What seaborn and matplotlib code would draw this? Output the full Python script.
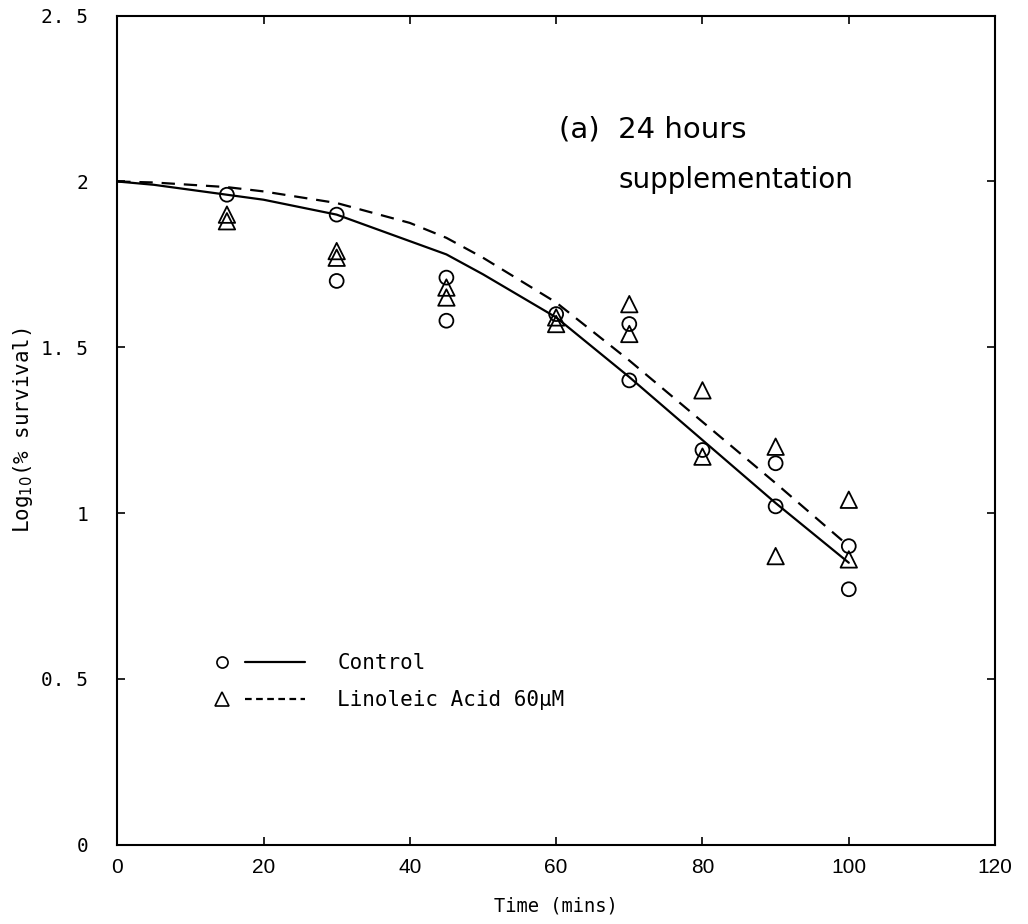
import matplotlib
matplotlib.use("Agg")
import matplotlib.pyplot as plt
import seaborn as sns
from matplotlib.lines import Line2D
from matplotlib.legend_handler import HandlerTuple

# ---- data ----
control_t = [15, 30, 30, 45, 45, 60, 70, 70, 80, 90, 90, 100, 100]
control_y = [1.96, 1.90, 1.70, 1.71, 1.58, 1.60, 1.40, 1.57, 1.19, 1.02, 1.15, 0.90, 0.77]

linoleic_t = [15, 15, 30, 30, 45, 45, 60, 60, 70, 70, 80, 80, 90, 90, 100, 100]
linoleic_y = [1.90, 1.88, 1.79, 1.77, 1.68, 1.65, 1.59, 1.57, 1.63, 1.54, 1.37, 1.17, 1.20, 0.87, 1.04, 0.86]

curve_t = [0, 5, 10, 15, 20, 30, 40, 45, 50, 60, 70, 80, 90, 100]
control_fit = [2.00, 1.99, 1.975, 1.96, 1.945, 1.90, 1.82, 1.78, 1.72, 1.59, 1.41, 1.22, 1.03, 0.85]
linoleic_fit = [2.00, 1.997, 1.99, 1.983, 1.97, 1.935, 1.875, 1.83, 1.77, 1.635, 1.46, 1.275, 1.09, 0.90]

x_ticks = [0, 20, 40, 60, 80, 100, 120]
y_ticks = [0, 0.5, 1, 1.5, 2, 2.5]
y_ticklabels = ["0", "0. 5", "1", "1. 5", "2", "2. 5"]

sns.set_style("white")
plt.rcParams["font.family"] = ["DejaVu Sans Mono", "DejaVu Sans"]
plt.rcParams["text.color"] = "black"
plt.rcParams["axes.labelcolor"] = "black"

fig = plt.figure(figsize=(10.28, 9.24), dpi=100)
ax = fig.add_axes([0.114, 0.086, 0.854, 0.897])

# fitted curves
sns.lineplot(x=curve_t, y=control_fit, color="black", linewidth=1.6, ax=ax)
sns.lineplot(x=curve_t, y=linoleic_fit, color="black", linewidth=1.6, ax=ax)
ax.lines[-1].set_dashes([6, 4])

# observations
sns.scatterplot(x=control_t, y=control_y, marker="o", s=100, facecolor="none",
                edgecolor="black", linewidth=1.3, ax=ax, zorder=3)
sns.scatterplot(x=linoleic_t, y=linoleic_y, marker="^", s=140, facecolor="none",
                edgecolor="black", linewidth=1.3, ax=ax, zorder=3)

ax.set_xlim(0, 120)
ax.set_ylim(0, 2.5)
ax.set_xticks(x_ticks)
ax.set_xticklabels([str(v) for v in x_ticks], family=["Liberation Sans", "DejaVu Sans"], fontsize=15)
ax.set_yticks(y_ticks)
ax.set_yticklabels(y_ticklabels, fontsize=14)
ax.tick_params(direction="in", length=6, width=1.2, top=True, right=True,
               bottom=True, left=True, colors="black")
ax.tick_params(axis="x", pad=10)
ax.tick_params(axis="y", pad=21)
for sp in ax.spines.values():
    sp.set_color("black")
    sp.set_linewidth(1.5)

ax.set_xlabel("Time (mins)", fontsize=13.5, labelpad=14)
ax.set_ylabel("Log$_{10}$(% survival)", fontsize=15, labelpad=4)

ax.text(0.503, 0.8625, "(a)  24 hours", transform=ax.transAxes, fontsize=21,
        family=["DejaVu Sans"], ha="left", va="center", color="black")
ax.text(0.571, 0.802, "supplementation", transform=ax.transAxes, fontsize=20,
        family=["DejaVu Sans"], ha="left", va="center", color="black")

# legend: marker then line, side by side
c = Line2D([], [], marker="o", ls="none", mfc="none", mec="black", ms=8, mew=1.2)
t = Line2D([], [], marker="^", ls="none", mfc="none", mec="black", ms=10, mew=1.2)
l1 = Line2D([], [], color="black", lw=1.6)
l2 = Line2D([], [], color="black", lw=1.6, dashes=[3, 2])
ax.legend([(c, l1), (t, l2)], ["Control", "Linoleic Acid 60μM"],
          handler_map={tuple: HandlerTuple(ndivide=None, pad=-0.34)},
          handlelength=5.43, frameon=False, fontsize=15, loc="upper left",
          bbox_to_anchor=(0.064, 0.2535), labelspacing=0.8, handletextpad=1.54)

fig.savefig("out.png", dpi=100)
